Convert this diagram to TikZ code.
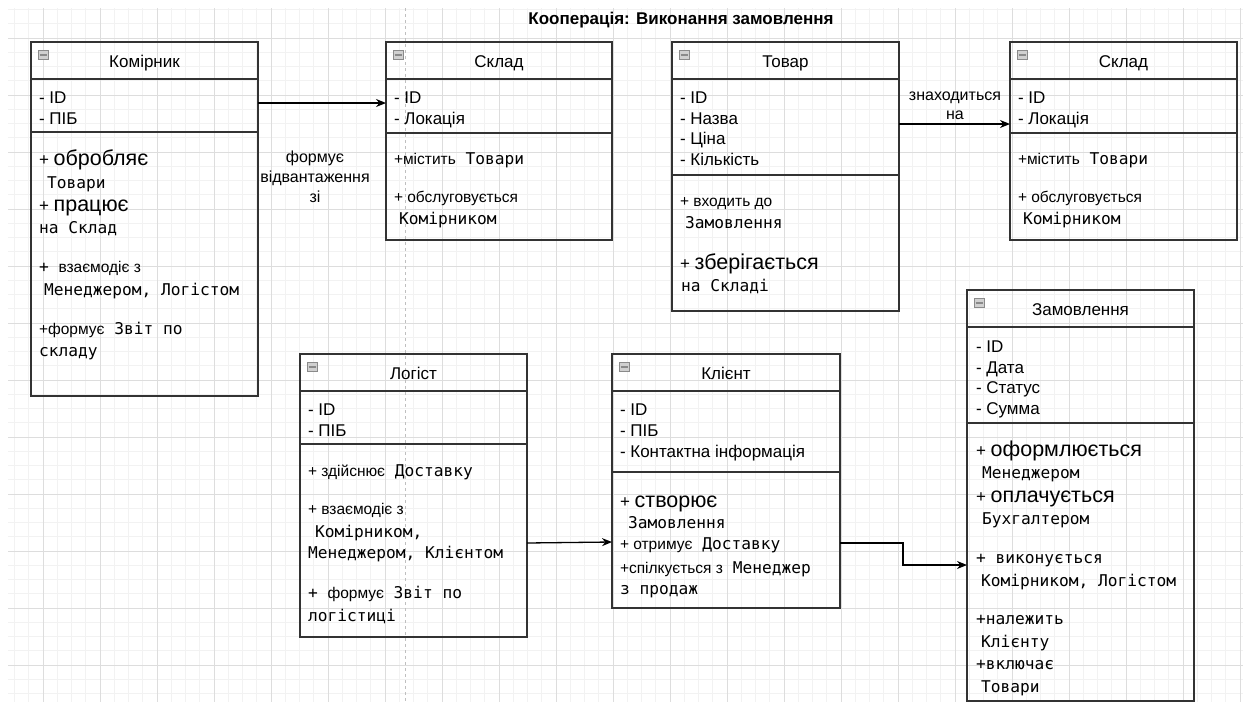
\documentclass[tikz,border=0pt]{standalone}
\usepackage{fontspec}
\setmainfont{Liberation Sans}
\newfontfamily\lsans{Liberation Sans}
\newfontfamily\dmono{DejaVu Sans Mono}
\usetikzlibrary{arrows.meta}
\definecolor{gminor}{HTML}{F2F2F2}
\definecolor{gmajor}{HTML}{DDDDDD}
\definecolor{boxc}{HTML}{333333}
\definecolor{iconf}{HTML}{D0D0D0}
\definecolor{icond}{HTML}{8A8A8A}
\newcommand\fN{\lsans\fontsize{17}{20}\selectfont}
\newcommand\fS{\lsans\fontsize{15.5}{19}\selectfont}
\newcommand\fL{\lsans\fontsize{16}{20}\selectfont}
\newcommand\fB{\lsans\fontsize{21.5}{25}\selectfont}
\newcommand\fM{\dmono\fontsize{16.2}{20}\selectfont}
\newcommand\umlbox[6]{%
  \node[box, minimum width=#4pt, minimum height=#5pt] (#1) at (#2,#3) {};
  \draw[sepline] ([yshift=-37pt]#1.north west) -- ([yshift=-37pt]#1.north east);
  \draw[sepline] ([yshift=-#6pt]#1.north west) -- ([yshift=-#6pt]#1.north east);
  \node[icon] (#1-icon) at ([xshift=12pt,yshift=-13pt]#1.north west) {};
}
\begin{document}
\begin{tikzpicture}[x=1pt,y=-1pt,
  box/.style={draw=boxc, line width=1.4pt, anchor=north west, inner sep=0pt, outer sep=0pt},
  sepline/.style={draw=boxc, line width=1.4pt},
  icon/.style={draw=icond, fill=iconf, minimum width=10pt, minimum height=9pt, inner sep=0pt, line width=0.6pt,
    path picture={\draw[icond, line width=1.6pt] ([xshift=1.5pt]path picture bounding box.west) -- ([xshift=-1.5pt]path picture bounding box.east);}},
  txt/.style={anchor=base west, inner sep=0pt, outer sep=0pt, font=\fN},
  ttl/.style={anchor=base, inner sep=0pt, outer sep=0pt, font=\fN},
  arr/.style={draw=black, line width=1.3pt, -{Stealth[length=10pt,width=8pt]}},
  lab/.style={align=center, inner sep=1pt, font=\fL},
  gmin/.style={draw=gminor, line width=0.7pt},
  gmaj/.style={draw=gmajor, line width=0.8pt},
  pageline/.style={draw=gray!50, line width=0.8pt, dashed}
]
\useasboundingbox (0,0) rectangle (1243,702);
\fill[white] (0,0) rectangle (1243,702);
% grid
\foreach \i in {0,...,86} {\draw[gmin] ({14.5+14.25*\i},8) -- ({14.5+14.25*\i},702);}
\foreach \i in {0,...,48} {\draw[gmin] (8,{9.5+14.25*\i}) -- (1243,{9.5+14.25*\i});}
\foreach \i in {0,...,21} {\draw[gmaj] ({43+57*\i},8) -- ({43+57*\i},702);}
\foreach \i in {0,...,11} {\draw[gmaj] (8,{38+57*\i}) -- (1243,{38+57*\i});}
\draw[pageline] (405,8) -- (405,702);

% title
\node[inner sep=0pt, font=\lsans\bfseries\fontsize{17}{20}\selectfont] (title) at (681,20) {Кооперація: Виконання замовлення};

% boxes
\umlbox{kom}{31}{42}{227}{354}{90}
\umlbox{skA}{386}{42}{226}{198}{91}
\umlbox{tov}{672}{42}{227}{269}{133}
\umlbox{skB}{1010}{42}{227}{198}{91}
\umlbox{log}{300}{354}{227}{283}{90}
\umlbox{kli}{612}{354}{228}{254}{118}
\umlbox{zam}{967}{290}{227}{411}{133}

% Комірник
\node[ttl] (kom-t) at (144.5,67) {Комірник};
\node[txt] (kom-a1) at (39,103) {- ID};
\node[txt] (kom-a2) at (39,124) {- ПІБ};
\node[txt] (kom-m1) at (39,165) {+ {\fB обробляє}};
\node[txt,font=\fM] (kom-m2) at (47,188) {Товари};
\node[txt] (kom-m3) at (39,211) {+ {\fB працює}};
\node[txt,font=\fM] (kom-m4) at (39,233) {на Склад};
\node[txt,font=\fM] (kom-m5) at (39,272) {+ {\fS взаємодіє з}};
\node[txt,font=\fM] (kom-m6) at (44,295) {Менеджером, Логістом};
\node[txt,font=\fM] (kom-m7) at (39,334) {{\fS +формує} Звіт по};
\node[txt,font=\fM] (kom-m8) at (39,356) {складу};

% Склад A
\node[ttl] (skA-t) at (499,67) {Склад};
\node[txt] (skA-a1) at (394,103) {- ID};
\node[txt] (skA-a2) at (394,124) {- Локація};
\node[txt,font=\fM] (skA-m1) at (394,164) {{\fS +містить} Товари};
\node[txt,font=\fS] (skA-m2) at (394,202) {+ обслуговується};
\node[txt,font=\fM] (skA-m3) at (399,224) {Комірником};

% Товар
\node[ttl] (tov-t) at (785.5,67) {Товар};
\node[txt] (tov-a1) at (680,103) {- ID};
\node[txt] (tov-a2) at (680,124) {- Назва};
\node[txt] (tov-a3) at (680,144) {- Ціна};
\node[txt] (tov-a4) at (680,165) {- Кількість};
\node[txt,font=\fS] (tov-m1) at (680,206) {+ входить до};
\node[txt,font=\fM] (tov-m2) at (685,228) {Замовлення};
\node[txt] (tov-m3) at (680,269) {+ {\fB зберігається}};
\node[txt,font=\fM] (tov-m4) at (681,291) {на Складі};

% Склад B
\node[ttl] (skB-t) at (1123.5,67) {Склад};
\node[txt] (skB-a1) at (1018,103) {- ID};
\node[txt] (skB-a2) at (1018,124) {- Локація};
\node[txt,font=\fM] (skB-m1) at (1018,164) {{\fS +містить} Товари};
\node[txt,font=\fS] (skB-m2) at (1018,202) {+ обслуговується};
\node[txt,font=\fM] (skB-m3) at (1023,224) {Комірником};

% Логіст
\node[ttl] (log-t) at (413.5,379) {Логіст};
\node[txt] (log-a1) at (308,415) {- ID};
\node[txt] (log-a2) at (308,436) {- ПІБ};
\node[txt,font=\fM] (log-m1) at (308,476) {{\fS + здійснює} Доставку};
\node[txt,font=\fS] (log-m2) at (308,514) {+ взаємодіє з};
\node[txt,font=\fM] (log-m3) at (315,537) {Комірником,};
\node[txt,font=\fM] (log-m4) at (308,558) {Менеджером, Клієнтом};
\node[txt,font=\fM] (log-m5) at (308,598) {+ {\fS формує} Звіт по};
\node[txt,font=\fM] (log-m6) at (308,621) {логістиці};

% Клієнт
\node[ttl] (kli-t) at (726,379) {Клієнт};
\node[txt] (kli-a1) at (620,415) {- ID};
\node[txt] (kli-a2) at (620,436) {- ПІБ};
\node[txt] (kli-a3) at (620,457) {- Контактна інформація};
\node[txt] (kli-m1) at (620,507) {+ {\fB створює}};
\node[txt,font=\fM] (kli-m2) at (628,528) {Замовлення};
\node[txt,font=\fM] (kli-m3) at (620,549) {{\fS + отримує} Доставку};
\node[txt,font=\fM] (kli-m4) at (620,573) {{\fS +спілкується з} Менеджер};
\node[txt,font=\fM] (kli-m5) at (620,594) {з продаж};

% Замовлення
\node[ttl] (zam-t) at (1080.5,315) {Замовлення};
\node[txt] (zam-a1) at (976,352) {- ID};
\node[txt] (zam-a2) at (976,373) {- Дата};
\node[txt] (zam-a3) at (976,393) {- Статус};
\node[txt] (zam-a4) at (976,414) {- Сумма};
\node[txt] (zam-m1) at (976,456) {+ {\fB оформлюється}};
\node[txt,font=\fM] (zam-m2) at (982,478) {Менеджером};
\node[txt] (zam-m3) at (976,502) {+ {\fB оплачується}};
\node[txt,font=\fM] (zam-m4) at (982,524) {Бухгалтером};
\node[txt,font=\fM] (zam-m5) at (976,563) {+ виконується};
\node[txt,font=\fM] (zam-m6) at (981,586) {Комірником, Логістом};
\node[txt,font=\fM] (zam-m7) at (976,624) {+належить};
\node[txt,font=\fM] (zam-m8) at (981,647) {Клієнту};
\node[txt,font=\fM] (zam-m9) at (976,669) {+включає};
\node[txt,font=\fM] (zam-m10) at (981,692) {Товари};

% connectors
\draw[arr] ([yshift=-61pt]kom.north east) -- ([yshift=-61pt]skA.north west);
\node[lab] (lab1) at (315,177) {формує\\[0pt]відвантаження\\[0pt]зі};
\draw[arr] ([yshift=-82pt]tov.north east) -- ([yshift=-82pt]skB.north west);
\node[lab] (lab2) at (955,106) {знаходиться\\[-1pt]на};
\draw[arr] ([yshift=-189pt]log.north east) -- ([yshift=-188pt]kli.north west);
\draw[arr] ([yshift=-189pt]kli.north east) -- ++(63,0) |- ([yshift=-275pt]zam.north west);
\end{tikzpicture}
\end{document}
